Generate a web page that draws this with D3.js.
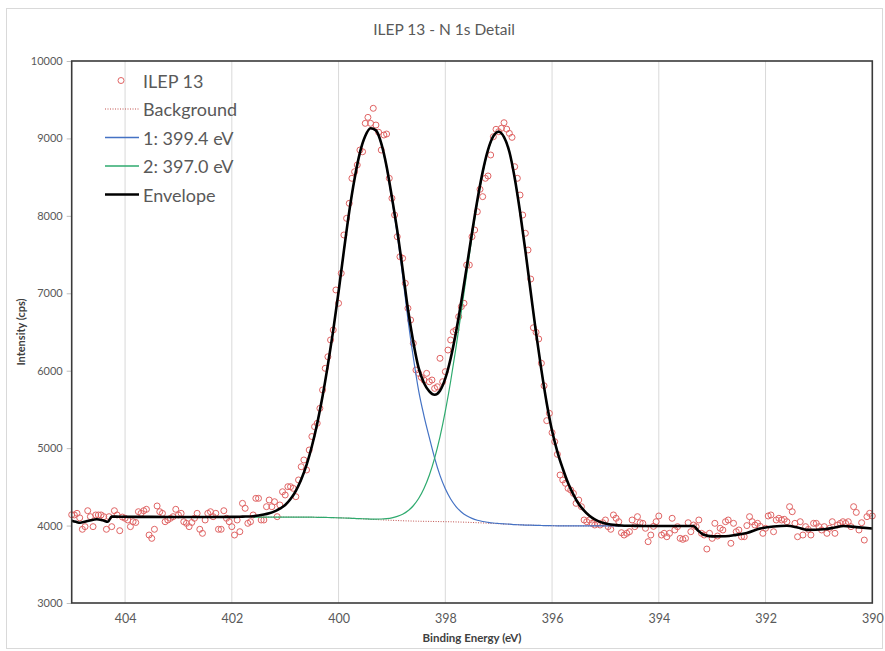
<!DOCTYPE html>
<html>
<head>
<meta charset="utf-8" />
<title>ILEP 13 - N 1s Detail</title>
<script src="https://cdn.jsdelivr.net/npm/d3@7"></script>
<style>
  body { margin: 0; background: #fff; }
  svg { font-family: Lato, "Open Sans", sans-serif; }
</style>
</head>
<body>
<svg id="chart" width="885" height="651"></svg>
<script>
// ---- data ----
const chartTitle = 'ILEP 13 - N 1s Detail';
const xTicks = [404, 402, 400, 398, 396, 394, 392, 390];
const yTicks = [3000, 4000, 5000, 6000, 7000, 8000, 9000, 10000];
const legendNames = ['ILEP 13', 'Background', '1: 399.4 eV', '2: 397.0 eV', 'Envelope'];

// measured counts, 405.00 eV down to 390.00 eV, 0.05 eV step
const scanStart = 405, scanStep = 0.05;
const ilep13 = [
  4140, 4137, 4158, 4100, 3952, 3986, 4192, 4115, 3986, 4137,
  4137, 4137, 4115, 3952, 4115, 3986, 4192, 4137, 3934, 4110,
  4094, 4072, 3986, 4050, 4040, 4179, 4158, 4192, 4210, 3878,
  3835, 3952, 4253, 4179, 4158, 4050, 4072, 4094, 4115, 4210,
  4137, 4158, 4050, 4029, 3986, 4040, 4094, 4158, 3952, 3900,
  4072, 4158, 4179, 4115, 4158, 3952, 3952, 4192, 4094, 4050,
  3986, 3878, 4072, 3921, 4287, 4223, 4029, 4050, 4137, 4352,
  4352, 4072, 4072, 4244, 4330, 4244, 4308, 4115, 4266, 4437,
  4395, 4502, 4502, 4481, 4373, 4589, 4760, 4847, 4718, 4976,
  5150, 5277, 5321, 5514, 5751, 6031, 6180, 6397, 6526, 7043,
  6871, 7258, 7753, 7968, 8162, 8485, 8570, 8657, 8850, 8828,
  9195, 9272, 9195, 9389, 9173, 9080, 8850, 9044, 9057, 8485,
  8227, 8011, 7731, 7472, 7452, 7129, 6806, 6655, 6354, 6009,
  5966, 5914, 5880, 5966, 5858, 5880, 5772, 5793, 6160, 5858,
  5988, 6267, 6397, 6504, 6526, 6698, 6827, 6871, 7365, 7365,
  7731, 7817, 8054, 8343, 8248, 8485, 8515, 8786, 9022, 9118,
  9087, 9131, 9203, 9120, 9066, 9014, 8635, 8485, 8269, 8011,
  7775, 7559, 7184, 6555, 6496, 6410, 6096, 5806, 5355, 5450,
  5200, 5083, 4920, 4653, 4589, 4546, 4481, 4459, 4416, 4287,
  4330, 4244, 4072, 4050, 4072, 4029, 4007, 4029, 4007, 4037,
  4072, 3986, 3952, 4137, 4094, 4050, 3908, 3878, 3900, 3921,
  4072, 3986, 4115, 4037, 4029, 3965, 3792, 3878, 3990, 4050,
  4124, 3878, 3900, 3856, 3900, 4094, 3943, 3986, 3835, 3822,
  3835, 4037, 3921, 4007, 3986, 4072, 3900, 3878, 3697, 3900,
  3835, 4029, 3865, 3965, 3943, 4050, 4072, 3771, 4029, 3921,
  3943, 3856, 3856, 4000, 4115, 4050, 4007, 4029, 3990, 3900,
  3965, 4124, 4137, 3921, 4072, 4094, 4072, 4081, 4050, 4244,
  4179, 4029, 3856, 4050, 3878, 3986, 3950, 3878, 4029, 4029,
  3986, 3943, 3986, 3900, 3965, 4050, 3900, 4007, 4029, 4050,
  4029, 4050, 3986, 4244, 4170, 3943, 4037, 3813, 4115, 4158,
  4124
];

// fitted curves, 401.6 eV down to 393.6 eV, 0.1 eV step
const fitStart = 401.6, fitStep = 0.1;
const background = [
  4110, 4110, 4110, 4110, 4110, 4110, 4110, 4110, 4109, 4109,
  4108, 4108, 4107, 4106, 4104, 4102, 4100, 4098, 4095, 4092,
  4088, 4085, 4081, 4078, 4074, 4071, 4068, 4065, 4062, 4060,
  4058, 4056, 4055, 4054, 4053, 4051, 4050, 4049, 4047, 4045,
  4043, 4040, 4037, 4034, 4031, 4027, 4024, 4020, 4017, 4013,
  4010, 4007, 4005, 4003, 4001, 3999, 3998, 3997, 3997, 3996,
  3996, 3995, 3995, 3995, 3995, 3995, 3995, 3995, 3995, 3995,
  3995, 3995, 3995, 3995, 3995, 3995, 3995, 3995, 3995, 3995,
  3995
];
const peak1 = [
  4121, 4129, 4142, 4159, 4183, 4218, 4265, 4342, 4449, 4594,
  4783, 5024, 5319, 5671, 6075, 6521, 7020, 7550, 8055, 8479,
  8815, 9029, 9128, 9098, 8926, 8620, 8205, 7756, 7229, 6662,
  6174, 5743, 5418, 5138, 4872, 4648, 4474, 4343, 4246, 4176,
  4127, 4093, 4069, 4053, 4042, 4033, 4027, 4022, 4018, 4013,
  4010, 4007, 4005, 4003, 4001, 3999, 3998, 3997, 3997, 3996,
  3996, 3995, 3995, 3995, 3995, 3995, 3995, 3995, 3995, 3995,
  3995, 3995, 3995, 3995, 3995, 3995, 3995, 3995, 3995, 3995,
  3995
];
const peak2 = [
  4110, 4110, 4110, 4110, 4110, 4110, 4110, 4110, 4109, 4109,
  4108, 4108, 4107, 4106, 4104, 4102, 4100, 4098, 4095, 4092,
  4089, 4087, 4084, 4084, 4085, 4090, 4100, 4118, 4146, 4191,
  4256, 4349, 4479, 4650, 4871, 5145, 5477, 5864, 6298, 6766,
  7251, 7728, 8170, 8549, 8841, 9023, 9084, 9016, 8827, 8490,
  8053, 7550, 7017, 6488, 6011, 5581, 5225, 4953, 4737, 4549,
  4400, 4279, 4193, 4126, 4079, 4048, 4027, 4014, 4006, 4001,
  3998, 3997, 3996, 3995, 3995, 3995, 3995, 3995, 3995, 3995,
  3995
];
const envelope = [
  4121, 4129, 4142, 4159, 4183, 4218, 4265, 4342, 4449, 4594,
  4783, 5024, 5319, 5671, 6075, 6521, 7020, 7550, 8055, 8479,
  8816, 9031, 9131, 9104, 8937, 8639, 8237, 7809, 7313, 6793,
  6372, 6036, 5842, 5734, 5690, 5742, 5901, 6158, 6497, 6897,
  7335, 7781, 8202, 8568, 8852, 9029, 9087, 9018, 8828, 8490,
  8053, 7550, 7017, 6488, 6011, 5581, 5225, 4953, 4737, 4549,
  4400, 4279, 4193, 4126, 4079, 4048, 4027, 4014, 4006, 4001,
  3998, 3997, 3996, 3995, 3995, 3995, 3995, 3995, 3995, 3995,
  3995
];
// envelope outside the fit window
const envHeadBE = [405.0, 404.92, 404.84, 404.68, 404.53, 404.42, 404.32, 404.25, 404.1, 403.5, 403.0, 402.5, 402.0, 401.8];
const envHead = [4063, 4048, 4037, 4062, 4081, 4068, 4050, 4118, 4114, 4112, 4110, 4110, 4112, 4116];
const envTailBE = [393.35, 393.27, 393.17, 393.0, 392.75, 392.55, 392.35, 392.1, 391.85, 391.6, 391.4, 391.22, 390.9, 390.7, 390.54, 390.3, 390.0];
const envTail = [3995, 3940, 3885, 3860, 3862, 3880, 3905, 3962, 3988, 3998, 3975, 3945, 3952, 3975, 3995, 3980, 3962];

// ---- drawing ----
var svg = d3.select('#chart');
var W = +svg.attr('width'), H = +svg.attr('height');

var x = d3.scaleLinear().domain([405, 390]).range([71.7, 872.3]);
var y = d3.scaleLinear().domain([3000, 10000]).range([603, 61]);

var grey = '#595959';

// chart frame
svg.append('rect')
  .attr('x', 6.5).attr('y', 8.5).attr('width', 876).attr('height', 640)
  .attr('fill', '#fff').attr('stroke', '#d9d9d9');

svg.append('text')
  .attr('x', 444).attr('y', 29)
  .attr('text-anchor', 'middle').attr('dominant-baseline', 'central')
  .attr('font-size', 15.5).attr('fill', grey)
  .text(chartTitle);

// vertical gridlines
svg.append('g').selectAll('line')
  .data(xTicks.filter(function (t) { return t !== 390; }))
  .enter().append('line')
  .attr('x1', function (d) { return x(d); }).attr('x2', function (d) { return x(d); })
  .attr('y1', y(10000)).attr('y2', y(3000))
  .attr('stroke', '#d9d9d9').attr('stroke-width', 1);

// axes
var gy = svg.append('g')
  .attr('transform', 'translate(' + x(405) + ',0)')
  .call(d3.axisLeft(y).tickValues(yTicks).tickSize(5).tickPadding(4).tickFormat(d3.format('d')));
gy.select('.domain').remove();
gy.selectAll('line').attr('stroke', '#bfbfbf');
gy.selectAll('text').attr('font-size', 11).attr('fill', grey).attr('font-family', 'Lato, sans-serif');

var gx = svg.append('g')
  .attr('transform', 'translate(0,' + y(3000) + ')')
  .call(d3.axisBottom(x).tickValues(xTicks).tickSize(0).tickPadding(11).tickFormat(d3.format('d')));
gx.select('.domain').remove();
gx.selectAll('text').attr('font-size', 12.5).attr('fill', grey).attr('font-family', 'Lato, sans-serif');

svg.append('text')
  .attr('x', (x(405) + x(390)) / 2).attr('y', 637)
  .attr('text-anchor', 'middle').attr('dominant-baseline', 'central')
  .attr('font-size', 11.5).attr('font-weight', 'bold').attr('fill', '#404040')
  .text('Binding Energy (eV)');

svg.append('text')
  .attr('transform', 'translate(20,' + (y(3000) + y(10000)) / 2 + ') rotate(-90)')
  .attr('text-anchor', 'middle').attr('dominant-baseline', 'central')
  .attr('font-size', 11).attr('font-weight', 'bold').attr('fill', '#404040')
  .text('Intensity (cps)');

// series
var scan = ilep13.map(function (v, i) { return { be: scanStart - i * scanStep, v: v }; });
var fitBE = background.map(function (v, j) { return fitStart - j * fitStep; });
var toPts = function (bes, vals) { return vals.map(function (v, i) { return { be: bes[i], v: v }; }); };

var env = toPts(envHeadBE, envHead)
  .concat(toPts(fitBE, envelope))
  .concat(toPts(envTailBE, envTail));

var lnMkr = d3.line()
  .curve(d3.curveMonotoneX)
  .x(function (d) { return x(d.be); })
  .y(function (d) { return y(d.v); });

var plot = svg.append('g');

plot.selectAll('circle')
  .data(scan)
  .enter().append('circle')
  .attr('cx', function (d) { return x(d.be); })
  .attr('cy', function (d) { return y(d.v); })
  .attr('r', 3)
  .attr('fill', 'none')
  .attr('stroke', '#e06464')
  .attr('stroke-width', 1);

plot.append('path').attr('d', lnMkr(toPts(fitBE, background)))
  .attr('fill', 'none').attr('stroke', '#c0504d').attr('stroke-width', 1).attr('stroke-dasharray', '1,1.5');
plot.append('path').attr('d', lnMkr(toPts(fitBE, peak1)))
  .attr('fill', 'none').attr('stroke', '#4472c4').attr('stroke-width', 1.2);
plot.append('path').attr('d', lnMkr(toPts(fitBE, peak2)))
  .attr('fill', 'none').attr('stroke', '#2eaa6e').attr('stroke-width', 1.2);
plot.append('path').attr('d', lnMkr(env))
  .attr('fill', 'none').attr('stroke', '#000').attr('stroke-width', 2.6).attr('stroke-linejoin', 'round');

// plot area border
svg.append('rect')
  .attr('x', x(405)).attr('y', y(10000))
  .attr('width', x(390) - x(405)).attr('height', y(3000) - y(10000))
  .attr('fill', 'none').attr('stroke', '#3a3a3a').attr('stroke-width', 1.6);

// legend
var legY = [80.5, 109, 137.5, 166, 194.5];
var leg = svg.append('g');
leg.append('circle').attr('cx', 121).attr('cy', legY[0]).attr('r', 3)
  .attr('fill', 'none').attr('stroke', '#e06464');
var legLines = [
  { stroke: '#c0504d', w: 1, dash: '1,1.5' },
  { stroke: '#4472c4', w: 1.3, dash: null },
  { stroke: '#2eaa6e', w: 1.3, dash: null },
  { stroke: '#000', w: 2.6, dash: null }
];
legLines.forEach(function (s, k) {
  leg.append('line')
    .attr('x1', 105).attr('x2', 139)
    .attr('y1', legY[k + 1]).attr('y2', legY[k + 1])
    .attr('stroke', s.stroke).attr('stroke-width', s.w)
    .attr('stroke-dasharray', s.dash);
});
leg.selectAll('text')
  .data(legendNames)
  .enter().append('text')
  .attr('x', 143)
  .attr('y', function (d, k) { return legY[k]; })
  .attr('dominant-baseline', 'central')
  .attr('font-size', 18).attr('fill', grey)
  .text(function (d) { return d; });
</script>
</body>
</html>
